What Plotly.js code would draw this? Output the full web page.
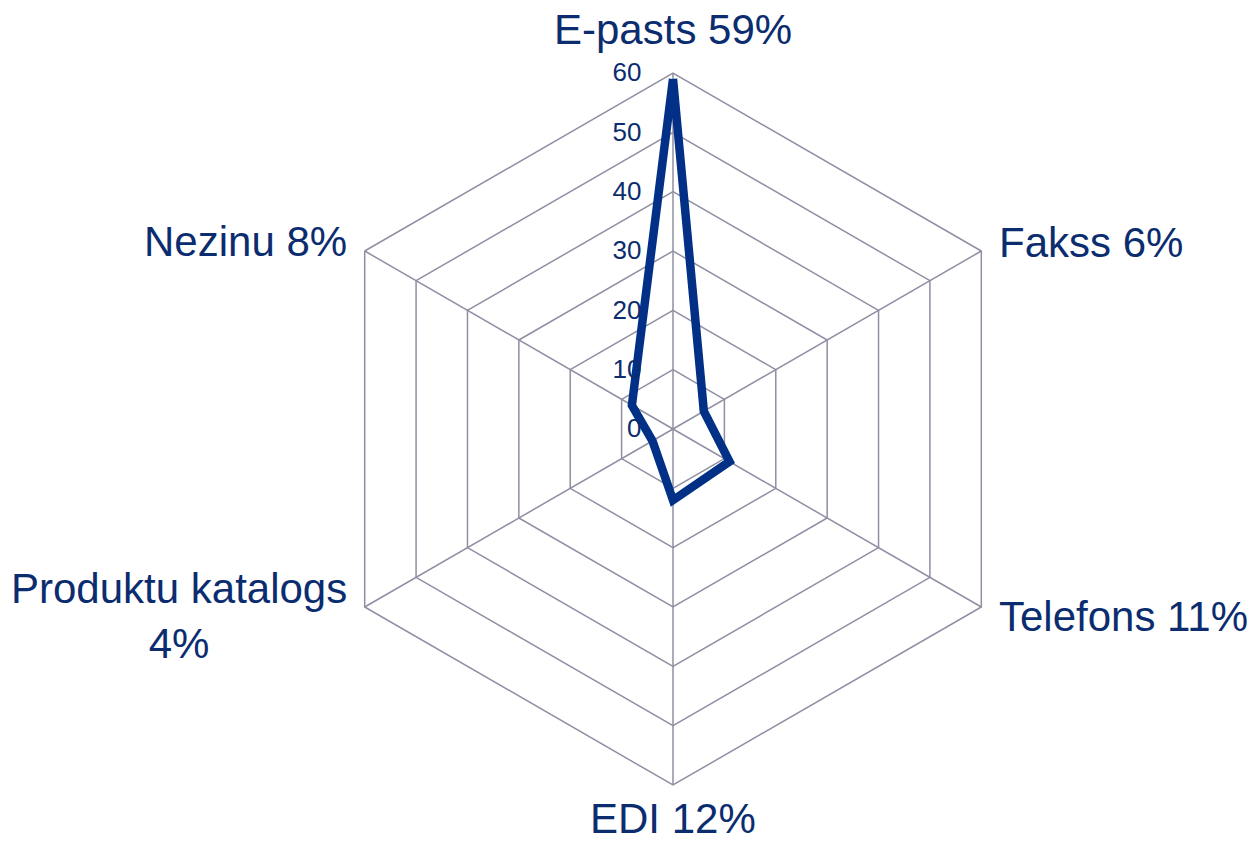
<!DOCTYPE html>
<html>
<head>
<meta charset="utf-8">
<script src="https://cdn.plot.ly/plotly-3.0.1.min.js"></script>
<style>
  html, body { margin: 0; padding: 0; background: #fff; }
  #chart { width: 1252px; height: 842px; }
</style>
</head>
<body>
<div id="chart"></div>
<script>
// Categories (clockwise from the top) and their shares in %
const categories = ["E-pasts", "Fakss", "Telefons", "EDI", "Produktu katalogs", "Nezinu"];
const shares = [59, 6, 11, 12, 4, 8];
const radialTicks = [0, 10, 20, 30, 40, 50, 60];

const TEXT_COLOR = "#0b2d6f";
const LINE_COLOR = "#023087";
const GRID_COLOR = "#8f8fa3";

const W = 1252, H = 842;
// polar placement in pixels (center and outer radius)
const CX = 673, CY = 429, RAD = 356;
const LABEL_GAP = 18;

// Category labels: "Name NN%", long names get a line break
const tickLabels = categories.map((c, i) =>
  c.length > 12 ? `${c}<br>${shares[i]}%` : `${c} ${shares[i]}%`
);

// close the loop by repeating the first point
const theta = categories.concat(categories[0]);
const r = shares.concat(shares[0]);

const trace = {
  type: "scatterpolar",
  mode: "lines",
  theta: theta,
  r: r,
  line: { color: LINE_COLOR, width: 8.5 },
  hoverinfo: "skip"
};

// place category labels just outside each spoke of the hexagon
const annotations = tickLabels.map((txt, i) => {
  const a = (90 - 360 / categories.length * i) * Math.PI / 180;
  const dx = Math.cos(a), dy = Math.sin(a);
  const gap = dy < -0.9 ? 8 : LABEL_GAP; // bottom one sits at the page edge
  const px = CX + (RAD + gap) * dx;
  const py = CY - (RAD + gap) * dy;
  return {
    xref: "paper", yref: "paper",
    x: px / W, y: 1 - py / H,
    text: txt,
    showarrow: false,
    align: "center",
    xanchor: Math.abs(dx) < 0.1 ? "center" : (dx > 0 ? "left" : "right"),
    yanchor: dy > 0.9 ? "bottom" : (dy < -0.9 ? "top" : "middle"),
    font: { size: 42, color: TEXT_COLOR }
  };
});

const layout = {
  width: W,
  height: H,
  margin: { t: 0, b: 0, l: 0, r: 0 },
  paper_bgcolor: "#fff",
  showlegend: false,
  font: { family: "Arial, 'Liberation Sans', sans-serif", color: TEXT_COLOR },
  annotations: annotations,
  polar: {
    domain: {
      x: [(CX - RAD) / W, (CX + RAD) / W],
      y: [1 - (CY + RAD) / H, 1 - (CY - RAD) / H]
    },
    bgcolor: "rgba(0,0,0,0)",
    gridshape: "linear",
    angularaxis: {
      direction: "clockwise",
      rotation: 90,
      tickvals: categories,
      showticklabels: false,
      ticks: "",
      showline: true,
      linecolor: GRID_COLOR,
      linewidth: 1.5,
      gridcolor: GRID_COLOR,
      gridwidth: 1.5
    },
    radialaxis: {
      range: [0, 60],
      tickvals: radialTicks,
      angle: 90,
      tickangle: 90,
      side: "counterclockwise",
      tickfont: { size: 26, color: TEXT_COLOR },
      ticks: "outside",
      ticklen: 22,
      tickcolor: "rgba(0,0,0,0)",
      showline: false,
      gridcolor: GRID_COLOR,
      gridwidth: 1.5
    }
  }
};

Plotly.newPlot("chart", [trace], layout, { staticPlot: true });
</script>
</body>
</html>
